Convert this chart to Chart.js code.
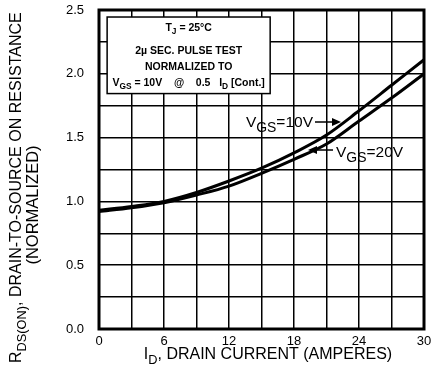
<!DOCTYPE html>
<html>
<head>
<meta charset="utf-8">
<script src="https://cdn.jsdelivr.net/npm/chart.js@4.4.0/dist/chart.umd.min.js"></script>
<style>
  html, body { margin: 0; padding: 0; background: #fff; }
  #wrap { width: 437px; height: 367px; }
</style>
</head>
<body>
<div id="wrap"><canvas id="rdschart" width="437" height="367"></canvas></div>
<script>
// drain current (A) and normalized RDS(on)
var current = [0, 3, 6, 9, 12, 15, 18, 21, 24, 27, 30];
var vgs10 = [0.93, 0.96, 1.0, 1.07, 1.16, 1.26, 1.38, 1.52, 1.71, 1.91, 2.11];
var vgs20 = [0.92, 0.95, 0.99, 1.05, 1.12, 1.22, 1.33, 1.45, 1.63, 1.81, 2.0];

var xTickLabels = [0, 6, 12, 18, 24, 30];
var yTickLabels = [0, 0.5, 1.0, 1.5, 2.0, 2.5];

var FONT = '"Liberation Sans", Arial, sans-serif';

function toPoints(xs, ys) {
    var pts = [];
    for (var i = 0; i < xs.length; i++) {
        pts.push({x: xs[i], y: ys[i]});
    }
    return pts;
}

// text made of [string, isSubscript, weight] parts
var subScale = 0.8;
function setFont(ctx, part, size) {
    ctx.font = (part[2] || '') + (part[1] ? size * subScale : size) + 'px ' + FONT;
}
function partsWidth(ctx, parts, size) {
    var w = 0;
    for (var i = 0; i < parts.length; i++) {
        setFont(ctx, parts[i], size);
        w += ctx.measureText(parts[i][0]).width;
    }
    return w;
}
function drawParts(ctx, parts, x, y, size) {
    ctx.textAlign = 'left';
    ctx.textBaseline = 'alphabetic';
    for (var i = 0; i < parts.length; i++) {
        setFont(ctx, parts[i], size);
        ctx.fillText(parts[i][0], x, parts[i][1] ? y + size * 0.3 : y);
        x += ctx.measureText(parts[i][0]).width;
    }
}

var extras = {
    id: 'extras',
    afterDraw: function(chart) {
        var ctx = chart.ctx;
        var a = chart.chartArea;
        var xs = chart.scales.x, ys = chart.scales.y;
        ctx.save();
        ctx.fillStyle = '#000';
        ctx.strokeStyle = '#000';

        // heavy frame
        ctx.lineWidth = 3;
        ctx.strokeRect(a.left, a.top, a.right - a.left, a.bottom - a.top);

        // conditions box
        var bx0 = xs.getPixelForValue(0.75), bx1 = xs.getPixelForValue(15.8);
        var by0 = ys.getPixelForValue(2.445), by1 = ys.getPixelForValue(1.845);
        ctx.fillStyle = '#fff';
        ctx.fillRect(bx0, by0, bx1 - bx0, by1 - by0);
        ctx.lineWidth = 1.5;
        ctx.strokeRect(bx0, by0, bx1 - bx0, by1 - by0);
        ctx.fillStyle = '#000';
        var cx = (bx0 + bx1) / 2;
        var B = 'bold ';
        var lines = [
            [['T', false, B], ['J', true, B], [' = 25\u00B0C', false, B]],
            [['2\u00B5 SEC. PULSE TEST', false, B]],
            [['NORMALIZED TO', false, B]],
            [['V', false, B], ['GS', true, B], [' = 10V    @    0.5   I', false, B], ['D', true, B], [' [Cont.]', false, B]]
        ];
        var baselines = [31, 54, 70, 86];
        for (var i = 0; i < lines.length; i++) {
            var w = partsWidth(ctx, lines[i], 10.5);
            drawParts(ctx, lines[i], cx - w / 2, baselines[i], 10.5);
        }

        // curve labels with arrows
        var lblSize = 15.5;
        subScale = 0.9;
        var l10 = [['V', false], ['GS', true], ['=10V', false]];
        var l20 = [['V', false], ['GS', true], ['=20V', false]];
        drawParts(ctx, l10, 313 - partsWidth(ctx, l10, lblSize), 127, lblSize);
        drawParts(ctx, l20, 336, 157, lblSize);
        subScale = 0.8;
        ctx.lineWidth = 1.5;
        ctx.beginPath();
        ctx.moveTo(315, 122); ctx.lineTo(334, 122);
        ctx.moveTo(314, 150); ctx.lineTo(333, 150);
        ctx.stroke();
        ctx.beginPath();
        ctx.moveTo(341, 122); ctx.lineTo(332, 118); ctx.lineTo(332, 126); ctx.closePath();
        ctx.moveTo(308, 150); ctx.lineTo(317, 146); ctx.lineTo(317, 154); ctx.closePath();
        ctx.fill();

        // x axis title
        var TS = 16;
        var xt = [['I', false], ['D', true], [', DRAIN CURRENT (AMPERES)', false]];
        var xw = partsWidth(ctx, xt, TS);
        drawParts(ctx, xt, 268 - xw / 2, 359, TS);

        // y axis title (rotated)
        ctx.rotate(-Math.PI / 2);
        var yt = [['R', false], ['DS(ON)', true], [', DRAIN-TO-SOURCE ON RESISTANCE', false]];
        drawParts(ctx, yt, -363, 21, TS);
        var yt2 = [['(NORMALIZED)', false]];
        var w2 = partsWidth(ctx, yt2, 16.5);
        drawParts(ctx, yt2, -205 - w2 / 2, 38, 16.5);
        ctx.restore();
    }
};

var ctx = document.getElementById('rdschart');
var chart = new Chart(ctx, {
    type: 'line',
    data: {
        datasets: [{
            label: 'VGS=10V',
            data: toPoints(current, vgs10),
            borderColor: '#000',
            borderWidth: 3,
            pointRadius: 0,
            cubicInterpolationMode: 'monotone'
        }, {
            label: 'VGS=20V',
            data: toPoints(current, vgs20),
            borderColor: '#000',
            borderWidth: 3,
            pointRadius: 0,
            cubicInterpolationMode: 'monotone'
        }]
    },
    options: {
        responsive: false,
        animation: false,
        events: [],
        layout: { padding: { left: 0, right: 13, top: 10, bottom: 0 } },
        plugins: { legend: { display: false }, tooltip: { enabled: false } },
        scales: {
            x: {
                type: 'linear',
                min: 0, max: 30,
                afterFit: function(s) { s.height = 38; s.paddingLeft = 0; s.paddingRight = 0; },
                grid: { color: '#000', lineWidth: 1.5, drawTicks: false },
                border: { display: false },
                ticks: {
                    stepSize: 3,
                    maxRotation: 0,
                    autoSkip: false,
                    padding: 5,
                    color: '#000',
                    font: { family: FONT, size: 13 },
                    callback: function(v) { return xTickLabels.indexOf(v) >= 0 ? String(v) : ''; }
                }
            },
            y: {
                min: 0, max: 2.5,
                afterFit: function(s) { s.width = 99; s.paddingTop = 0; s.paddingBottom = 0; },
                grid: { color: '#000', lineWidth: 1.5, drawTicks: false },
                border: { display: false },
                ticks: {
                    stepSize: 0.25,
                    autoSkip: false,
                    padding: 15,
                    color: '#000',
                    font: { family: FONT, size: 13 },
                    callback: function(v) { return yTickLabels.indexOf(v) >= 0 ? v.toFixed(1) : ''; }
                }
            }
        }
    },
    plugins: [extras]
});
</script>
</body>
</html>
